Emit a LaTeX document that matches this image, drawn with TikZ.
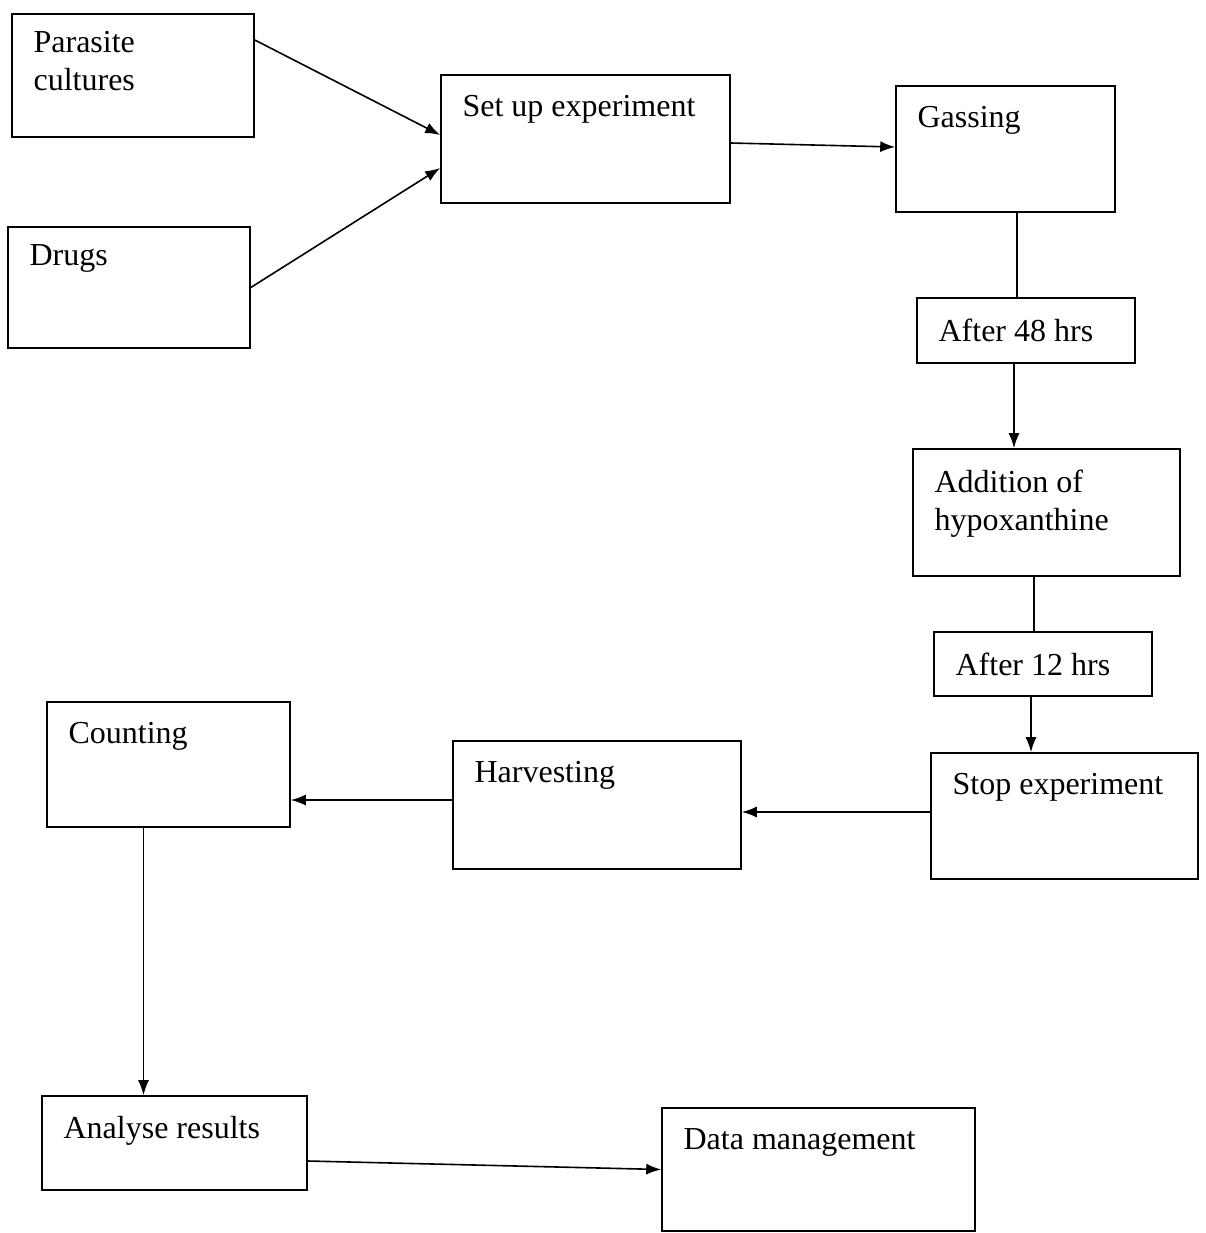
\documentclass[tikz,border=0pt]{standalone}
\usepackage{fontspec}
\setmainfont{Liberation Serif}
\usetikzlibrary{arrows.meta,positioning}

\begin{document}
\begin{tikzpicture}[x=0.5pt,y=-0.5pt]
\tikzset{
  box/.style={rectangle, draw, line width=0.8pt, inner sep=0pt},
  boxtext/.style={anchor=north west, inner xsep=11pt, inner ysep=10.5pt, font=\fontsize{16}{19}\selectfont, align=left},
  line/.style={draw, line width=0.8pt},
  arrow/.style={line, -{Latex[length=7.5pt,width=5.5pt]}}
}
\useasboundingbox (0,0) rectangle (1206,1233);

% Boxes
\node [box, minimum width=121pt, minimum height=61.5pt, label={[boxtext, inner ysep=9pt]north west:Parasite\\cultures}] (parasite) at (133,75.5) {};
\node [box, minimum width=121pt, minimum height=60.5pt, label={[boxtext, inner ysep=9pt]north west:Drugs}] (drugs) at (129,287.5) {};
\node [box, minimum width=144.5pt, minimum height=64pt, label={[boxtext]north west:Set up experiment}] (setup) at (585.5,139) {};
\node [box, minimum width=109.5pt, minimum height=63pt, label={[boxtext]north west:Gassing}] (gassing) at (1005.5,149) {};
\node [box, minimum width=109pt, minimum height=32.5pt, label={[boxtext]north west:After 48 hrs}] (after48) at (1026,330.5) {};
\node [box, minimum width=133.5pt, minimum height=63.5pt, label={[boxtext]north west:Addition of\\hypoxanthine}] (addition) at (1046.5,512.5) {};
\node [box, minimum width=109pt, minimum height=32pt, label={[boxtext]north west:After 12 hrs}] (after12) at (1043,664) {};
\node [box, minimum width=133.5pt, minimum height=63pt, label={[boxtext]north west:Stop experiment}] (stop) at (1064.5,816) {};
\node [box, minimum width=144pt, minimum height=64pt, label={[boxtext]north west:Harvesting}] (harvesting) at (597,805) {};
\node [box, minimum width=121.5pt, minimum height=62.5pt, label={[boxtext]north west:Counting}] (counting) at (168.5,764.5) {};
\node [box, minimum width=132.5pt, minimum height=47pt, label={[boxtext]north west:Analyse results}] (analyse) at (174.5,1143) {};
\node [box, minimum width=156.5pt, minimum height=61.5pt, label={[boxtext]north west:Data management}] (data) at (818.5,1169.5) {};

% Connections
\draw [arrow] ([yshift=17.75pt]parasite.east) -- ([yshift=2pt]setup.west);
\draw [arrow] (drugs.east) -- ([yshift=-14.5pt]setup.west);
\draw [arrow] ([yshift=-2pt]setup.east) -- ([yshift=1pt]gassing.west);
\draw [line] ([xshift=5.75pt]gassing.south) -- ([xshift=5.75pt]gassing.south |- after48.north);
\draw [arrow] ([xshift=-6pt]after48.south) -- ([xshift=-6pt]after48.south |- addition.north);
\draw [line] ([xshift=-6.25pt]addition.south) -- ([xshift=-6.25pt]addition.south |- after12.north);
\draw [arrow] ([xshift=-6pt]after12.south) -- ([xshift=-6pt]after12.south |- stop.north);
\draw [arrow] ([yshift=2pt]stop.west) -- ([yshift=2pt]stop.west -| harvesting.east);
\draw [arrow] ([yshift=2.5pt]harvesting.west) -- ([yshift=2.5pt]harvesting.west -| counting.east);
\draw [arrow] ([xshift=-12.5pt]counting.south) -- ([xshift=-12.5pt]counting.south |- analyse.north);
\draw [arrow] ([yshift=-9pt]analyse.east) -- (data.west);

\end{tikzpicture}
\end{document}
